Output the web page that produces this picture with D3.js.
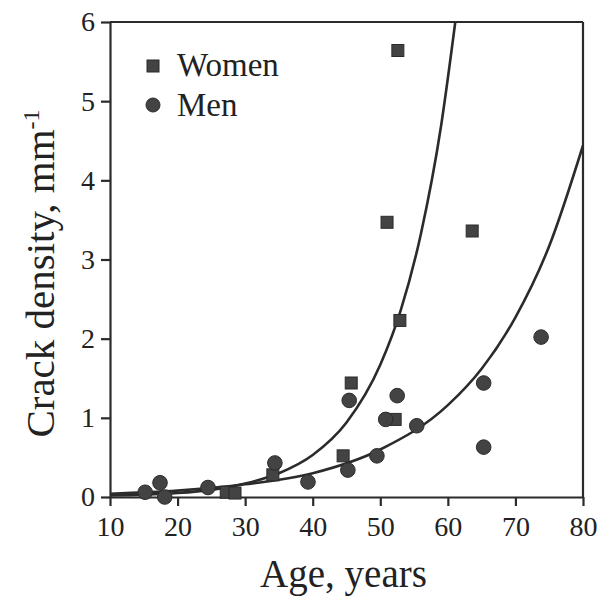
<!DOCTYPE html>
<html>
<head>
<meta charset="utf-8">
<script src="https://cdn.jsdelivr.net/npm/d3@7/dist/d3.min.js"></script>
<style>
  html, body { margin: 0; padding: 0; background: #fff; }
  svg text { font-family: "Liberation Serif", "DejaVu Serif", serif; fill: #222; }
</style>
</head>
<body>
<svg id="chart" width="604" height="603"></svg>
<script>
'use strict';

// data
const womenAge = [27.2, 28.5, 34.1, 44.5, 45.7, 51.0, 52.2, 52.6, 52.9, 63.6];
const womenDensity = [0.06, 0.05, 0.28, 0.52, 1.44, 3.47, 0.98, 5.64, 2.23, 3.36];
const menAge = [15.2, 17.4, 18.1, 24.5, 34.4, 39.3, 45.4, 45.2, 49.5, 50.8, 52.5, 55.4, 65.3, 65.3, 73.8];
const menDensity = [0.06, 0.18, 0.0, 0.12, 0.43, 0.19, 1.22, 0.34, 0.52, 0.98, 1.28, 0.9, 1.44, 0.63, 2.02];

// fitted curves
const womenCurveAge = [10, 15, 20, 25, 30, 35, 40, 45, 50, 53, 56, 59, 61.1];
const womenCurveDensity = [0.02, 0.03, 0.05, 0.09, 0.17, 0.30, 0.53, 0.94, 1.67, 2.35, 3.32, 4.69, 6.0];
const menCurveAge = [10, 20, 30, 40, 50, 60, 65, 70, 75, 80];
const menCurveDensity = [0.04, 0.08, 0.16, 0.30, 0.60, 1.16, 1.62, 2.27, 3.17, 4.44];

const xTicks = [10, 20, 30, 40, 50, 60, 70, 80];
const yTicks = [0, 1, 2, 3, 4, 5, 6];

const svg = d3.select("#chart");
const margin = { top: 22, right: 21, bottom: 106, left: 110 };
const width = 604 - margin.left - margin.right,
    height = 603 - margin.top - margin.bottom;

const g = svg.append("g").attr("transform", "translate(" + margin.left + "," + margin.top + ")");

const xScale = d3.scaleLinear().domain([10, 80]).range([0, width]);
const yScale = d3.scaleLinear().domain([0, 6]).range([height, 0]);

const ink = "#2b2b2b";
const serif = "'Liberation Serif', 'DejaVu Serif', serif";

// frame top & right
g.append("line").attr("x1", 0).attr("x2", width).attr("y1", 0).attr("y2", 0)
    .attr("stroke", ink).attr("stroke-width", 2.2);
g.append("line").attr("x1", width).attr("x2", width).attr("y1", 0).attr("y2", height)
    .attr("stroke", ink).attr("stroke-width", 2.2);

// axes
const xAxis = d3.axisBottom(xScale).tickValues(xTicks).tickFormat(d3.format("d"))
    .tickSize(9).tickPadding(10).tickSizeOuter(0);
const yAxis = d3.axisLeft(yScale).tickValues(yTicks).tickFormat(d3.format("d"))
    .tickSize(9).tickPadding(6).tickSizeOuter(0);

const gx = g.append("g").attr("transform", "translate(0," + height + ")").call(xAxis);
const gy = g.append("g").call(yAxis);

[gx, gy].forEach(a => {
    a.attr("font-family", serif).attr("font-size", 28);
    a.select(".domain").attr("stroke", ink).attr("stroke-width", 2.2);
    a.selectAll(".tick line").attr("stroke", ink).attr("stroke-width", 2.2);
    a.selectAll(".tick text")
        .style("font-family", serif)
        .style("font-size", "28px")
        .attr("fill", "#222");
});

// curves
const line = d3.line()
    .curve(d3.curveMonotoneX)
    .x(d => xScale(d[0]))
    .y(d => yScale(d[1]));

g.append("path")
    .datum(d3.zip(womenCurveAge, womenCurveDensity))
    .attr("d", line)
    .attr("fill", "none").attr("stroke", ink).attr("stroke-width", 2.6);
g.append("path")
    .datum(d3.zip(menCurveAge, menCurveDensity))
    .attr("d", line)
    .attr("fill", "none").attr("stroke", ink).attr("stroke-width", 2.6);

// points
const markFill = "#434343";
const sq = 12;
g.selectAll(".women").data(d3.zip(womenAge, womenDensity)).enter()
    .append("rect").attr("class", "women")
    .attr("x", d => xScale(d[0]) - sq / 2)
    .attr("y", d => yScale(d[1]) - sq / 2)
    .attr("width", sq).attr("height", sq)
    .attr("fill", markFill).attr("stroke", ink).attr("stroke-width", 1);

g.selectAll(".men").data(d3.zip(menAge, menDensity)).enter()
    .append("circle").attr("class", "men")
    .attr("cx", d => xScale(d[0]))
    .attr("cy", d => yScale(d[1]))
    .attr("r", 7.3)
    .attr("fill", markFill).attr("stroke", ink).attr("stroke-width", 1);

// legend
const legend = svg.append("g");
legend.append("rect").attr("x", 147).attr("y", 60).attr("width", sq).attr("height", sq)
    .attr("fill", markFill).attr("stroke", ink).attr("stroke-width", 1);
legend.append("text").attr("x", 177).attr("y", 76).style("font-size", "33px").text("Women");
legend.append("circle").attr("cx", 153).attr("cy", 105).attr("r", 7)
    .attr("fill", markFill).attr("stroke", ink).attr("stroke-width", 1);
legend.append("text").attr("x", 177).attr("y", 116).style("font-size", "33px").text("Men");

// axis titles
svg.append("text")
    .attr("x", margin.left + width / 2 - 3).attr("y", 587)
    .attr("text-anchor", "middle")
    .style("font-size", "39px")
    .text("Age, years");

const yt = svg.append("text")
    .attr("transform", "translate(54," + (margin.top + height / 2 + 14) + ") rotate(-90)")
    .attr("text-anchor", "middle")
    .style("font-size", "41px");
yt.append("tspan").text("Crack density, mm");
yt.append("tspan").attr("dy", -15).style("font-size", "24px").text("-1");
</script>
</body>
</html>
